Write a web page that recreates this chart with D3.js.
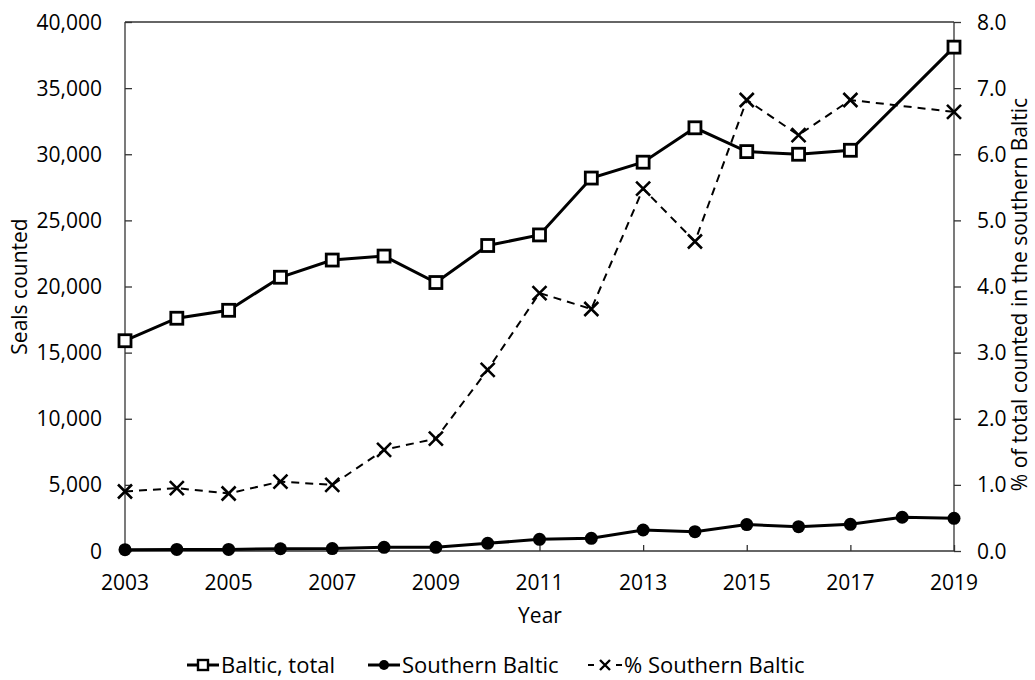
<!DOCTYPE html>
<html><head><meta charset="utf-8">
<script src="https://cdn.jsdelivr.net/npm/d3@7"></script>
<style>body{margin:0;background:#fff}svg{display:block}text{font-family:"Open Sans",sans-serif;fill:#000}</style>
</head><body><svg id="c" width="1035" height="680"></svg>
<script>
const years = [2003,2004,2005,2006,2007,2008,2009,2010,2011,2012,2013,2014,2015,2016,2017,2018,2019];
const balticTotal = [15900,17600,18200,20700,22000,22300,20300,23100,23900,28200,29400,32000,30200,30000,30300,null,38100];
const southernBaltic = [100,120,120,170,180,280,280,580,880,960,1590,1460,2000,1840,2020,2550,2470];
const pctSouthern = [0.90,0.95,0.87,1.05,1.00,1.53,1.70,2.74,3.90,3.66,5.48,4.68,6.82,6.29,6.82,null,6.64];
const leftTicks = [0,5000,10000,15000,20000,25000,30000,35000,40000];
const rightTicks = [0,1,2,3,4,5,6,7,8];
const xTicks = [2003,2005,2007,2009,2011,2013,2015,2017,2019];

const svg = d3.select("#c");
const L=125, R=954, T=22, B=551;
const x = d3.scaleLinear().domain([2003,2019]).range([L,R]);
const yL = d3.scaleLinear().domain([0,40000]).range([B,T]);
const yR = d3.scaleLinear().domain([0,8]).range([B,T]);
const axisColor = "#333";
const fs = 21;

svg.append("line").attr("x1",L).attr("x2",R).attr("y1",T).attr("y2",T).attr("stroke",axisColor).attr("stroke-width",1.3);

const gL = svg.append("g").attr("transform",`translate(${L},0)`)
  .call(d3.axisRight(yL).tickValues(leftTicks).tickSize(7).tickFormat(()=>""));
gL.selectAll("path,line").attr("stroke",axisColor).attr("stroke-width",1.3);
gL.select(".domain").attr("d",`M0,${T}V${B}`);
svg.selectAll(".lt").data(leftTicks).join("text").attr("class","lt")
  .attr("x",102).attr("y",d=>yL(d)+7.5).attr("text-anchor","end").attr("font-size",fs)
  .text(d=>d3.format(",")(d));

const gR = svg.append("g").attr("transform",`translate(${R},0)`)
  .call(d3.axisRight(yR).tickValues(rightTicks).tickSize(7).tickFormat(()=>""));
gR.selectAll("path,line").attr("stroke",axisColor).attr("stroke-width",1.3);
gR.select(".domain").attr("d",`M0,${T}V${B}`);
svg.selectAll(".rt").data(rightTicks).join("text").attr("class","rt")
  .attr("x",977).attr("y",d=>yR(d)+7.5).attr("text-anchor","start").attr("font-size",fs)
  .text(d=>d3.format(".1f")(d));

const gB = svg.append("g").attr("transform",`translate(0,${B})`)
  .call(d3.axisTop(x).tickValues(xTicks).tickSize(6).tickFormat(()=>""));
gB.selectAll("path,line").attr("stroke",axisColor).attr("stroke-width",1.3);
gB.select(".domain").attr("d",`M${L},0H${R}`);
svg.selectAll(".xt").data(xTicks).join("text").attr("class","xt")
  .attr("x",d=>x(d)).attr("y",590).attr("text-anchor","middle").attr("font-size",fs)
  .text(d=>d);

svg.append("text").attr("x",540).attr("y",623).attr("text-anchor","middle").attr("font-size",fs).text("Year");
svg.append("text").attr("transform",`translate(27,${(T+B)/2}) rotate(-90)`).attr("text-anchor","middle").attr("font-size",fs).text("Seals counted");
svg.append("text").attr("transform",`translate(1027,${(T+B)/2+8}) rotate(-90)`).attr("text-anchor","middle").attr("font-size",fs).text("% of total counted in the southern Baltic");

const totalPts = years.map((yr,i)=>({yr,v:balticTotal[i]})).filter(d=>d.v!=null);
const southPts = years.map((yr,i)=>({yr,v:southernBaltic[i]})).filter(d=>d.v!=null);
const pctPts = years.map((yr,i)=>({yr,v:pctSouthern[i]})).filter(d=>d.v!=null);

svg.append("path").datum(pctPts).attr("fill","none").attr("stroke","#000").attr("stroke-width",2)
  .attr("stroke-dasharray","8,6")
  .attr("d",d3.line().x(d=>x(d.yr)).y(d=>yR(d.v)));
const xs=7;
svg.selectAll(".xm").data(pctPts).join("path").attr("class","xm")
  .attr("d",d=>{const cx=x(d.yr),cy=yR(d.v);return `M${cx-xs},${cy-xs}L${cx+xs},${cy+xs}M${cx-xs},${cy+xs}L${cx+xs},${cy-xs}`;})
  .attr("stroke","#000").attr("stroke-width",2.6).attr("fill","none");

svg.append("path").datum(southPts).attr("fill","none").attr("stroke","#000").attr("stroke-width",3)
  .attr("d",d3.line().x(d=>x(d.yr)).y(d=>yL(d.v)));
svg.selectAll(".cm").data(southPts).join("circle").attr("class","cm")
  .attr("cx",d=>x(d.yr)).attr("cy",d=>yL(d.v)).attr("r",6.5).attr("fill","#000");

svg.append("path").datum(totalPts).attr("fill","none").attr("stroke","#000").attr("stroke-width",3)
  .attr("d",d3.line().x(d=>x(d.yr)).y(d=>yL(d.v)));
const sq=6;
svg.selectAll(".sm").data(totalPts).join("rect").attr("class","sm")
  .attr("x",d=>x(d.yr)-sq).attr("y",d=>yL(d.v)-sq).attr("width",sq*2).attr("height",sq*2)
  .attr("fill","#fff").attr("stroke","#000").attr("stroke-width",2.8);

// legend
const ly = 665, lfs = 22;
const lg = svg.append("g");
lg.append("line").attr("x1",187).attr("x2",219).attr("y1",ly).attr("y2",ly).attr("stroke","#000").attr("stroke-width",3);
lg.append("rect").attr("x",203-5).attr("y",ly-5).attr("width",10).attr("height",10).attr("fill","#fff").attr("stroke","#000").attr("stroke-width",2.4);
lg.append("text").attr("x",221).attr("y",ly+8).attr("font-size",lfs).text("Baltic, total");

lg.append("line").attr("x1",368).attr("x2",400).attr("y1",ly).attr("y2",ly).attr("stroke","#000").attr("stroke-width",3);
lg.append("circle").attr("cx",384).attr("cy",ly).attr("r",5).attr("fill","#000");
lg.append("text").attr("x",402).attr("y",ly+8).attr("font-size",lfs).text("Southern Baltic");

lg.append("line").attr("x1",588).attr("x2",622).attr("y1",ly).attr("y2",ly).attr("stroke","#000").attr("stroke-width",2).attr("stroke-dasharray","6,22");
const lx=605, ls=5;
lg.append("path").attr("d",`M${lx-ls},${ly-ls}L${lx+ls},${ly+ls}M${lx-ls},${ly+ls}L${lx+ls},${ly-ls}`).attr("stroke","#000").attr("stroke-width",2.4);
lg.append("text").attr("x",624).attr("y",ly+8).attr("font-size",lfs).text("% Southern Baltic");
</script></body></html>
